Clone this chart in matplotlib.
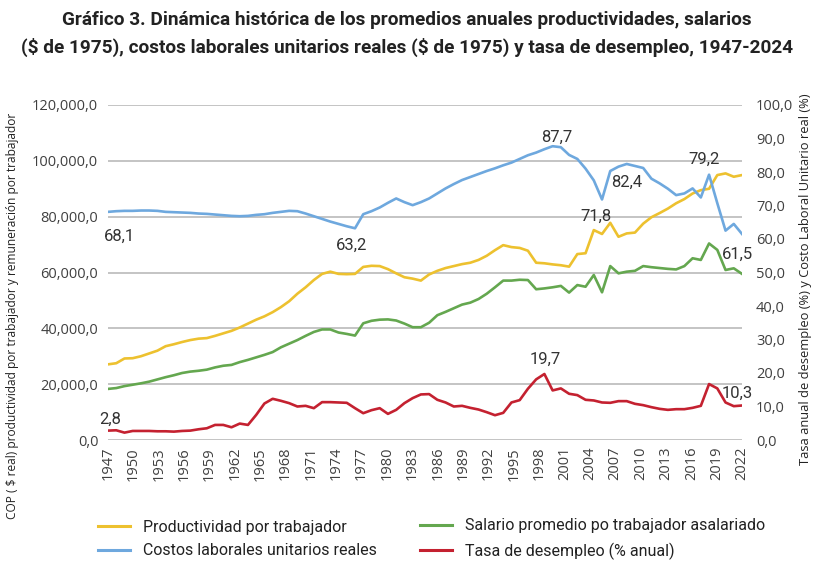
# -*- coding: utf-8 -*-
import numpy as np
import matplotlib
matplotlib.use('Agg')
import matplotlib.pyplot as plt
from matplotlib.ticker import FuncFormatter

#%% Data (1947-2024)
years = np.arange(1947, 2025)

productividad = [27100, 27500, 29200, 29300, 30000, 31000, 32000, 33600, 34300, 35100,
                 35800, 36300, 36500, 37300, 38200, 39100, 40300, 41700, 43100, 44300,
                 45800, 47600, 49700, 52400, 54700, 57300, 59500, 60300, 59500, 59400,
                 59500, 62000, 62400, 62300, 61200, 59700, 58300, 57800, 57100, 59300,
                 60600, 61600, 62300, 63000, 63500, 64500, 66000, 68000, 69800, 69100,
                 68800, 67800, 63500, 63300, 62900, 62600, 62100, 66600, 66900, 75200,
                 73800, 77800, 72800, 74000, 74300, 77500, 79800, 81300, 82900, 84800,
                 86300, 88300, 89500, 90000, 94900, 95500, 94300, 94900]

salario = [18300, 18600, 19300, 19800, 20300, 20900, 21700, 22500, 23200, 24000,
           24500, 24800, 25200, 26000, 26600, 26900, 27900, 28700, 29600, 30500,
           31500, 33200, 34500, 35800, 37300, 38700, 39600, 39600, 38500, 38000,
           37400, 41800, 42700, 43100, 43200, 42800, 41700, 40400, 40400, 42000,
           44700, 45900, 47200, 48500, 49200, 50500, 52400, 54700, 57100, 57100,
           57400, 57300, 54000, 54300, 54700, 55200, 52800, 55500, 54900, 59100,
           52900, 62300, 59700, 60300, 60600, 62300, 61900, 61600, 61300, 61100,
           62300, 65100, 64500, 70400, 68100, 60900, 61500, 59500]

costos = [68.1, 68.3, 68.4, 68.4, 68.5, 68.5, 68.4, 68.1, 68.0, 67.9,
          67.8, 67.6, 67.5, 67.3, 67.1, 66.9, 66.8, 66.9, 67.2, 67.4,
          67.8, 68.1, 68.4, 68.3, 67.6, 66.8, 66.0, 65.2, 64.5, 63.8,
          63.2, 67.4, 68.3, 69.4, 70.8, 72.1, 71.0, 70.1, 71.0, 72.1,
          73.6, 75.1, 76.4, 77.6, 78.5, 79.4, 80.3, 81.1, 82.0, 82.8,
          83.9, 85.0, 85.8, 86.8, 87.7, 87.4, 85.1, 83.9, 81.0, 77.5,
          71.8, 80.3, 81.6, 82.4, 81.8, 81.2, 78.0, 76.6, 75.0, 73.1,
          73.6, 75.1, 72.4, 79.2, 70.7, 62.5, 64.5, 61.5]

desempleo = [2.8, 2.9, 2.2, 2.7, 2.7, 2.7, 2.6, 2.6, 2.5, 2.7,
             2.8, 3.2, 3.5, 4.5, 4.5, 3.8, 4.9, 4.5, 7.5, 10.9,
             12.3, 11.7, 11.0, 10.0, 10.2, 9.5, 11.3, 11.3, 11.2, 11.1,
             9.5, 8.0, 8.9, 9.5, 7.8, 9.0, 11.0, 12.5, 13.6, 13.7,
             12.0, 11.2, 10.0, 10.2, 9.6, 9.1, 8.3, 7.4, 8.1, 11.2,
             11.9, 15.3, 18.1, 19.7, 14.8, 15.4, 13.8, 13.4, 12.0, 11.8,
             11.2, 11.1, 11.6, 11.6, 10.8, 10.4, 9.8, 9.3, 9.0, 9.2,
             9.2, 9.6, 10.2, 16.7, 15.4, 11.2, 10.1, 10.3]

tick_labels = [str(y) for y in range(1947, 2023, 3)]

# labelled points: (year, offset px x, offset px y)
labels_costos = [(1947, 11, -24), (1977, -3, -17), (2001, 4, 9), (2007, -6, -17),
                 (2010, 0, -18), (2020, -5, 15), (2024, -5, -20)]
labels_desempleo = [(1947, 2, 11), (2000, 1, 15), (2024, -5, 12)]

#%% Style
c_yellow = '#EDC12F'
c_blue = '#6EA8DE'
c_green = '#64A74F'
c_red = '#C42130'
narrow = ['Roboto', 'DejaVu Sans']
regular = ['Open Sans', 'DejaVu Sans']
txt = '#404040'

fig = plt.figure(figsize=(8.14, 5.65), dpi=100)
ax = fig.add_axes([108/814, 1-440/565, (742-108)/814, (440-105)/565])
ax2 = ax.twinx()

ax.plot(years, productividad, color=c_yellow, lw=1.9)
ax.plot(years, salario, color=c_green, lw=1.9)
ax2.plot(years, costos, color=c_blue, lw=1.9)
ax2.plot(years, desempleo, color=c_red, lw=1.9)

ax.set_xlim(1947, 2024)
ax.set_ylim(0, 120000)
ax2.set_ylim(0, 100)
ax.set_yticks(np.arange(0, 120001, 20000))
ax2.set_yticks(np.arange(0, 101, 10))
ax.yaxis.set_major_formatter(FuncFormatter(lambda v, p: f"{v:,.1f}".replace('.', ',')))
ax2.yaxis.set_major_formatter(FuncFormatter(lambda v, p: f"{v:.1f}".replace('.', ',')))
ax.set_xticks(np.linspace(1947, 2024, len(tick_labels)))
ax.set_xticklabels(tick_labels, rotation=90)

ax.grid(axis='y', color='#BFBFBF', lw=1.3)
ax.set_axisbelow(True)
for a in (ax, ax2):
    for s in a.spines.values():
        s.set_visible(False)
    a.tick_params(length=0, colors=txt)
ax.tick_params(axis='y', pad=7, labelsize=10.5)
ax2.tick_params(axis='y', pad=10, labelsize=10.5)
ax.tick_params(axis='x', pad=5, labelsize=10.5)
for t in ax.get_yticklabels() + ax2.get_yticklabels() + ax.get_xticklabels():
    t.set_family(regular)

ax.set_ylabel('COP ( \\$ real) productividad por trabajador y remuneración por trabajador',
              family=regular, fontsize=8.6, color='#222222')
ax.yaxis.set_label_coords(-0.14, 0.37)
ax2.set_ylabel('Tasa anual de desempleo (%) y Costo Laboral Unitario real (%)',
               family=regular, fontsize=9.3, color='#222222')
ax2.yaxis.set_label_coords(1.09, 0.48)

#%% Data labels
px = 0.72
for yr, dx, dy in labels_costos:
    v = costos[yr - 1947]
    ax2.annotate(f"{v:.1f}".replace('.', ','), (yr, v), xytext=(dx*px, dy*px),
                 textcoords='offset points', ha='center', va='center',
                 fontsize=12, color='#333333', family=narrow)
for yr, dx, dy in labels_desempleo:
    v = desempleo[yr - 1947]
    ax2.annotate(f"{v:.1f}".replace('.', ','), (yr, v), xytext=(dx*px, dy*px),
                 textcoords='offset points', ha='center', va='center',
                 fontsize=12, color='#333333', family=narrow)

#%% Title and legend
fig.text(0.5, 1-20/565, 'Gráfico 3. Dinámica histórica de los promedios anuales productividades, salarios',
         ha='center', va='center', fontsize=13.7, fontweight='bold', family=narrow, color='#222222')
fig.text(0.5, 1-47/565, '(\\$ de 1975), costos laborales unitarios reales (\\$ de 1975) y tasa de desempleo, 1947-2024',
         ha='center', va='center', fontsize=13.7, fontweight='bold', family=narrow, color='#222222')

names = ['Productividad por trabajador', 'Costos laborales unitarios reales',
         'Salario promedio po trabajador asalariado', 'Tasa de desempleo (% anual)']
cols = [(c_yellow, c_blue), (c_green, c_red)]
xpos = [84/814, 406/814]
for k in range(2):
    h = [plt.Line2D([], [], color=c, lw=2.2) for c in cols[k]]
    leg = fig.legend(h, names[2*k:2*k+2], loc='center left', bbox_to_anchor=(xpos[k], 1-539/565),
                     frameon=False, prop={'family': narrow, 'size': 11.5},
                     handlelength=2.0, labelspacing=0.55, handletextpad=0.8)
    for t in leg.get_texts():
        t.set_color('#222222')

plt.savefig('out.png', dpi=100)
